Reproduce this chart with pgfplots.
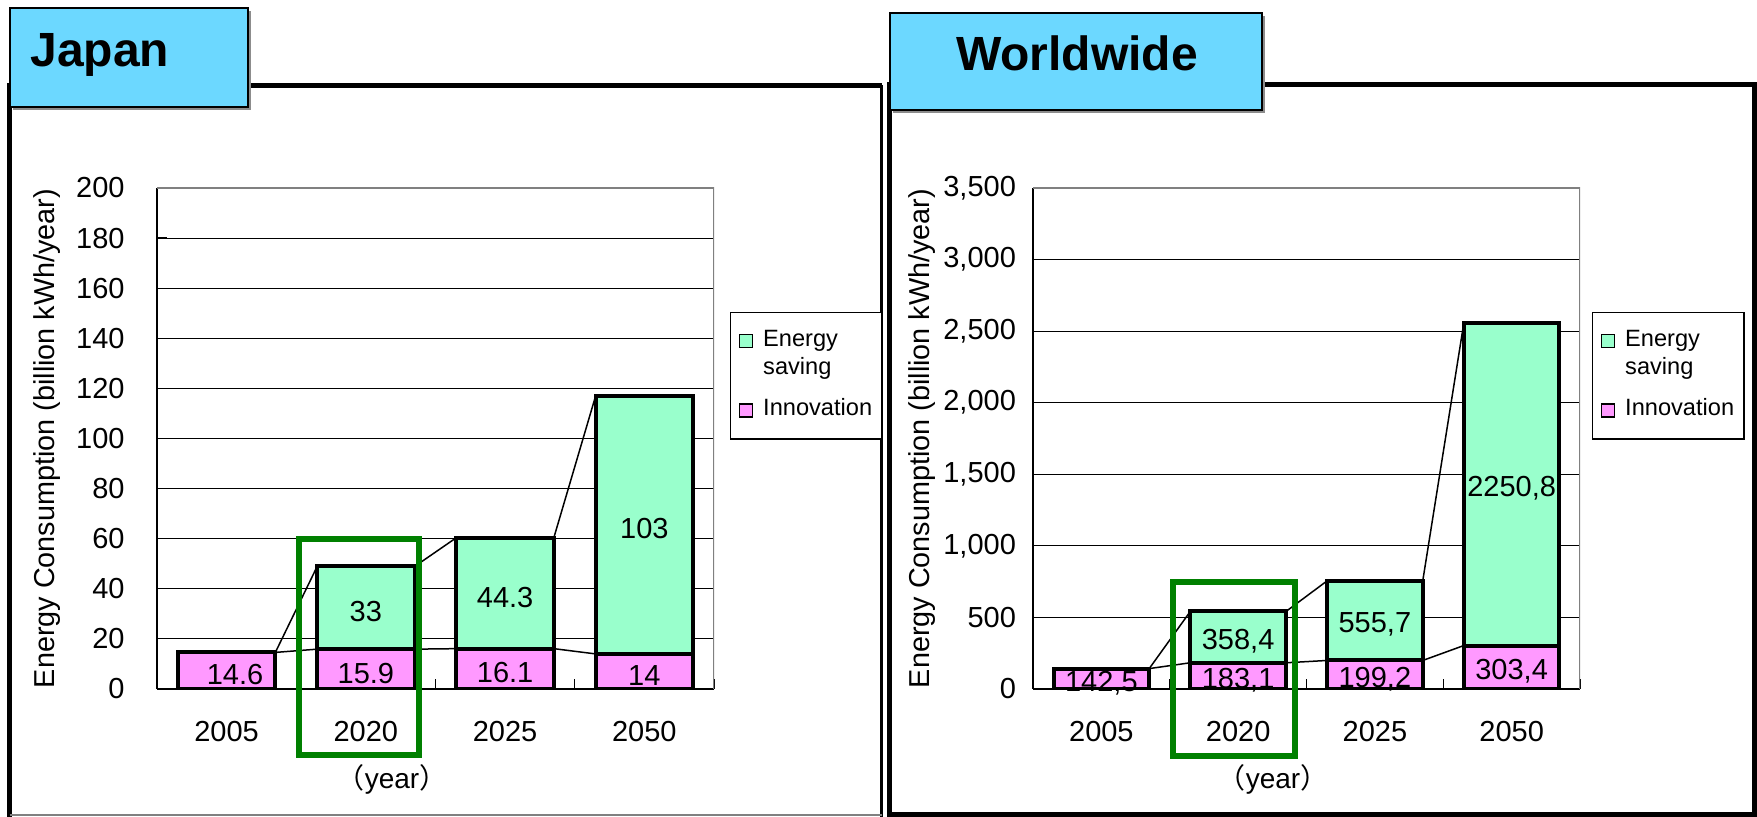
\documentclass[border=0pt]{standalone}
\usepackage{pgfplots}
\pgfplotsset{compat=1.18}
\usepackage{fontspec}
\setmainfont{Liberation Sans}
\newfontfamily\cjk{Noto Sans CJK JP}
\definecolor{esave}{RGB}{153,255,204}
\definecolor{innov}{RGB}{255,153,255}
\definecolor{titlebg}{RGB}{108,216,255}
\definecolor{hlgreen}{RGB}{0,128,0}

\pgfplotsset{
  panel/.style={
    scale only axis, height=250.5pt,
    xmin=-0.5, xmax=3.5, ymin=0,
    axis x line*=bottom, axis y line*=left,
    axis line style={black, line width=0.8pt},
    tick align=inside, major tick length=5pt,
    tick style={black, line width=0.6pt},
    xtick={0.5,1.5,2.5,3.5}, xticklabels={},
    extra x ticks={0,1,2,3},
    extra x tick labels={2005,2020,2025,2050},
    extra x tick style={major tick length=0pt, xticklabel style={yshift=-12.5pt}},
    ymajorgrids, grid style={black, line width=0.5pt},
    tick label style={font=\fontsize{14.5}{17}\selectfont},
    /pgf/number format/assume math mode=true,
    ylabel={Energy Consumption (billion kWh/year)},
    ylabel style={font=\fontsize{14.4}{17}\selectfont},
    legend style={draw=black, line width=0.75pt, font=\fontsize{11.8}{14}\selectfont,
      anchor=north west, inner xsep=4pt, inner ysep=8.2pt, row sep=5.35pt, column sep=4pt,
      nodes={inner sep=1pt, text height=0.75em, text depth=0.25em}},
    legend cell align=left,
    legend image code/.code={\draw[#1, line width=0.75pt] (0pt,-3.25pt) rectangle (6.5pt,3.25pt);},
  },
  bars/.style={ybar, bar shift=0pt, bar width=0.7, stack plots=y, draw=black, line width=2pt, forget plot},
  serline/.style={black, line width=0.75pt, mark=none, forget plot},
  vals/.style={draw=none, mark=none, forget plot, nodes near coords, point meta=explicit symbolic,
    every node near coord/.append style={anchor=center, yshift=-2pt, font=\fontsize{14.5}{17}\selectfont}},
}

\begin{document}
\begin{tikzpicture}
\useasboundingbox (0pt,0pt) rectangle (878.5pt,408.5pt);

% panel frames
\begin{scope}[x=1pt,y=1pt]
  \draw[line width=2.5pt] (4.75,0) -- (4.75,365.75) -- (440.75,365.75);
  \draw[line width=1.5pt] (440.75,365.75) -- (440.75,0);
  \draw[gray, line width=0.75pt] (4.75,1) -- (440.75,1);
  \draw[line width=2.5pt] (444.75,0) -- (444.75,366) -- (877,366) -- (877,1.25) -- (444.75,1.25);
\end{scope}

% Japan
\begin{axis}[panel, at={(78.5pt,64pt)}, anchor=south west, width=278.5pt,
  ymax=200, ytick={0,20,...,200},
  yticklabel style={xshift=-12.7pt},
  ylabel style={at={(axis description cs:-0.1975,0.5)}, anchor=center},
  legend style={at={(axis description cs:1.0287,0.7525)}}]
  \addplot[serline] coordinates {(0.35,14.6) (0.65,15.9)};
  \addplot[serline] coordinates {(1.35,15.9) (1.65,16.1)};
  \addplot[serline] coordinates {(2.35,16.1) (2.65,14)};
  \addplot[serline] coordinates {(0.35,14.6) (0.65,48.9)};
  \addplot[serline] coordinates {(1.35,48.9) (1.65,60.4)};
  \addplot[serline] coordinates {(2.35,60.4) (2.65,117)};
  \addplot[bars, fill=innov] coordinates {(0,14.6) (1,15.9) (2,16.1) (3,14)};
  \addplot[bars, fill=esave] coordinates {(0,0) (1,33) (2,44.3) (3,103)};
  \addplot[vals] coordinates {(0.06,7.3) [14.6] (1,7.95) [15.9] (2,8.05) [16.1] (3,7) [14]
    (1,32.4) [33] (2,38.25) [44.3] (3,65.5) [103]};
  \addlegendimage{fill=esave, draw=black}
  \addlegendentry{Energy}
  \addlegendimage{empty legend}
  \addlegendentry{\raisebox{3.25pt}{saving}}
  \addlegendimage{fill=innov, draw=black}
  \addlegendentry{Innovation}
  \draw[gray, line width=0.75pt] (rel axis cs:0,1) -- (rel axis cs:1,1) -- (rel axis cs:1,0);
\end{axis}

% Worldwide
\begin{axis}[panel, at={(516.5pt,64pt)}, anchor=south west, width=273.5pt,
  ymax=3500, ytick={0,500,...,3500},
  yticklabel style={xshift=-5pt},
  ylabel style={at={(axis description cs:-0.203,0.5)}, anchor=center},
  legend style={at={(axis description cs:1.0219,0.7525)}}]
  \addplot[serline] coordinates {(0.35,142.5) (0.65,183.1)};
  \addplot[serline] coordinates {(1.35,183.1) (1.65,199.2)};
  \addplot[serline] coordinates {(2.35,199.2) (2.65,303.4)};
  \addplot[serline] coordinates {(0.35,142.5) (0.65,541.5)};
  \addplot[serline] coordinates {(1.35,541.5) (1.65,754.9)};
  \addplot[serline] coordinates {(2.35,754.9) (2.65,2554.2)};
  \addplot[bars, fill=innov] coordinates {(0,142.5) (1,183.1) (2,199.2) (3,303.4)};
  \addplot[bars, fill=esave] coordinates {(0,0) (1,358.4) (2,555.7) (3,2250.8)};
  \addplot[vals] coordinates {(0,71.25) [{142,5}] (1,91.55) [{183,1}] (2,99.6) [{199,2}] (3,151.7) [{303,4}]
    (1,362.3) [{358,4}] (2,477.05) [{555,7}] (3,1428.8) [{2250,8}]};
  \addlegendimage{fill=esave, draw=black}
  \addlegendentry{Energy}
  \addlegendimage{empty legend}
  \addlegendentry{\raisebox{3.25pt}{saving}}
  \addlegendimage{fill=innov, draw=black}
  \addlegendentry{Innovation}
  \draw[gray, line width=0.75pt] (rel axis cs:0,1) -- (rel axis cs:1,1) -- (rel axis cs:1,0);
\end{axis}

\begin{scope}[x=1pt,y=1pt]
  % title tabs
  \fill[black!45] (6.5,353.5) rectangle (125.5,403);
  \filldraw[fill=titlebg, draw=black, line width=1pt] (5,355) rectangle (124,404.5);
  \node[anchor=base west, inner sep=0pt, font=\bfseries\fontsize{24}{28}\selectfont] at (15,375) {Japan};
  \fill[black!45] (446.5,352) rectangle (632.5,400.5);
  \filldraw[fill=titlebg, draw=black, line width=1pt] (445,353.5) rectangle (631,402);
  \node[anchor=base, inner sep=0pt, font=\bfseries\fontsize{24}{28}\selectfont] at (538.5,373) {Worldwide};
  % highlight of 2020
  \draw[hlgreen, line width=3pt] (149.5,31) rectangle (209.5,139);
  \draw[hlgreen, line width=3pt] (586.5,30.5) rectangle (647.5,117.5);
  % x axis titles
  \node[font=\fontsize{14}{16}\selectfont] at (196,18.8) {{\cjk （}year{\cjk ）}};
  \node[font=\fontsize{14}{16}\selectfont] at (636.5,18.8) {{\cjk （}year{\cjk ）}};
\end{scope}
\end{tikzpicture}
\end{document}
